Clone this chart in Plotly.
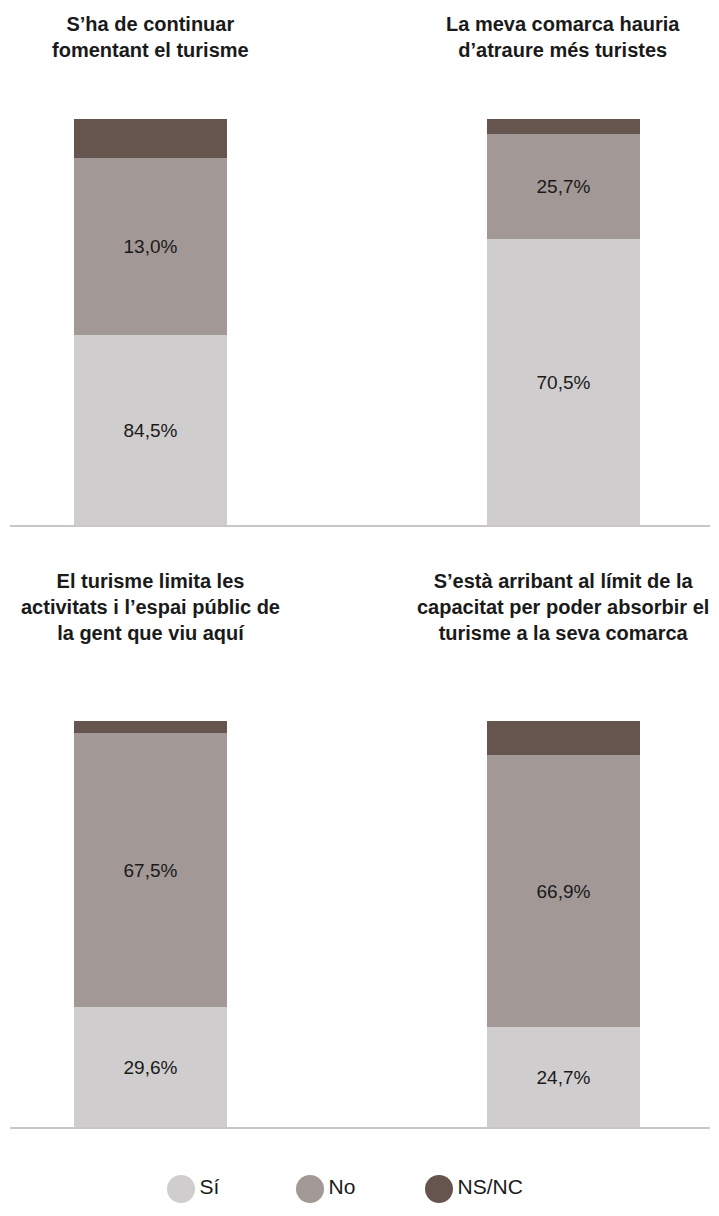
import plotly.graph_objects as go

# ----------------------------------------
# data (segment heights as drawn, labels as printed)
# ----------------------------------------
statements = [
    "S’ha de continuar<br>fomentant el turisme",
    "La meva comarca hauria<br>d’atraure més turistes",
    "El turisme limita les<br>activitats i l’espai públic de<br>la gent que viu aquí",
    "S’està arribant al límit de la<br>capacitat per poder absorbir el<br>turisme a la seva comarca",
]
si = [46.8, 70.5, 29.6, 24.7]
no = [43.6, 25.7, 67.5, 66.9]
nsnc = [9.6, 3.8, 2.9, 8.4]
si_labels = ["84,5%", "70,5%", "29,6%", "24,7%"]
no_labels = ["13,0%", "25,7%", "67,5%", "66,9%"]
answers = ["Sí", "No", "NS/NC"]

colors = {"Sí": "#d0cdce", "No": "#a29896", "NS/NC": "#66544e"}
FONT = "Liberation Sans, Arial, sans-serif"
TXT = "#1a1a1a"

# page body has an 8px margin, so the figure is a bit smaller and shifted
OFF = 8
W, H = 719 - OFF, 1216 - OFF


def px_x(p):
    return (p - OFF) / W


def px_y(p):
    return 1 - (p - OFF) / H


fig = go.Figure()

rows = [(0, "x", "y"), (2, "x2", "y2")]
for start, xa, ya in rows:
    cats = statements[start:start + 2]
    for name, vals, labels in [("Sí", si, si_labels), ("No", no, no_labels), ("NS/NC", nsnc, None)]:
        fig.add_trace(go.Bar(
            x=cats,
            y=vals[start:start + 2],
            text=labels[start:start + 2] if labels else None,
            textposition="inside" if labels else "none",
            insidetextanchor="middle",
            textangle=0,
            textfont=dict(family=FONT, size=19, color=TXT),
            marker=dict(color=colors[name], line=dict(width=0)),
            width=0.3705,
            xaxis=xa, yaxis=ya,
            showlegend=False,
            hoverinfo="skip",
        ))
    # titles above each bar
    for c in cats:
        fig.add_annotation(
            x=c, xref=xa,
            y=px_y(37) if start == 0 else px_y(607), yref="paper",
            text="<b>" + c + "</b>", showarrow=False,
            xanchor="center", yanchor="middle", align="center",
            font=dict(family=FONT, size=20, color=TXT),
        )

# legend drawn as big circles on its own axis
fig.add_trace(go.Scatter(
    x=list(range(len(answers))),
    y=[0] * len(answers),
    mode="markers+text",
    marker=dict(size=28, color=[colors[a] for a in answers], line=dict(width=0)),
    text=answers,
    textposition="middle right",
    textfont=dict(family=FONT, size=21, color=TXT),
    xaxis="x3", yaxis="y3",
    showlegend=False,
    hoverinfo="skip",
))

xdom = [px_x(10), px_x(710)]
xrng = [-0.340, 1.3547]
hidden = dict(showgrid=False, zeroline=False, showticklabels=False, ticks="", fixedrange=True)
unit = 129 / W  # legend spacing in paper units

fig.update_layout(
    width=W, height=H,
    margin=dict(l=0, r=0, t=0, b=0),
    paper_bgcolor="white", plot_bgcolor="white",
    barmode="stack", bargap=0,
    showlegend=False,
    xaxis=dict(domain=xdom, range=xrng, anchor="y", type="category",
               showline=True, linecolor="#cac6c7", linewidth=2, **hidden),
    yaxis=dict(domain=[px_y(525), px_y(119)], range=[0, 100], anchor="x", **hidden),
    xaxis2=dict(domain=xdom, range=xrng, anchor="y2", type="category",
                showline=True, linecolor="#cac6c7", linewidth=2, **hidden),
    yaxis2=dict(domain=[px_y(1127), px_y(721)], range=[0, 100], anchor="x2", **hidden),
    xaxis3=dict(domain=[0, 1], range=[-px_x(181) / unit, (1 - px_x(181)) / unit], anchor="y3", **hidden),
    yaxis3=dict(domain=[px_y(1210), px_y(1168)], range=[-1, 1], anchor="x3", **hidden),
)

fig.write_html("out.html")
